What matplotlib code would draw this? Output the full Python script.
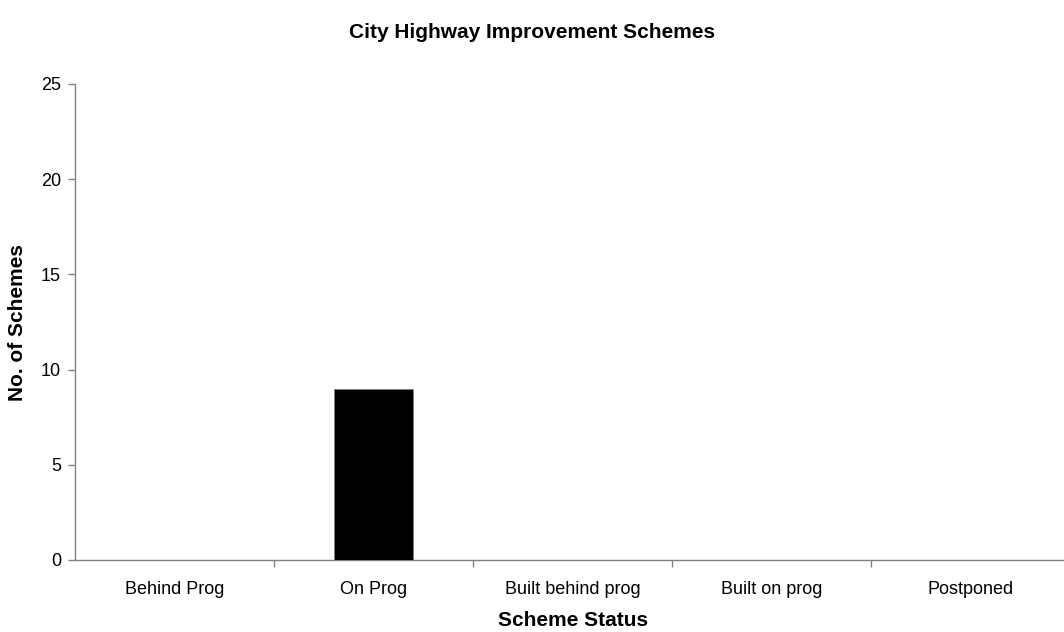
import matplotlib
matplotlib.use("Agg")
import matplotlib.pyplot as plt
import numpy as np

categories = ["Behind Prog", "On Prog", "Built behind prog", "Built on prog", "Postponed"]
values = [0, 9, 0, 0, 0]

plt.rcParams['font.family'] = ['Liberation Sans', 'DejaVu Sans']

W, H = 1064, 632
fig = plt.figure(figsize=(W/100, H/100), dpi=100)
ax = fig.add_axes([75/W, 72/H, 995/W, 476/H])

x = np.arange(len(categories))
ax.bar(x, values, width=0.4, color='black', edgecolor='#808080', linewidth=0.6, zorder=3)

ax.set_xlim(-0.5, len(categories) - 0.5)
ax.set_ylim(0, 25)
ax.set_yticks([0, 5, 10, 15, 20, 25])
ax.set_xticks(x)
ax.set_xticklabels(categories, fontsize=13)
ax.set_xticks(np.arange(1, len(categories) + 1) - 0.5, minor=True)
ax.tick_params(axis='x', which='major', length=0, pad=15)
ax.tick_params(axis='x', which='minor', length=5, color='#808080', width=1)
ax.tick_params(axis='y', which='major', length=5, color='#808080', width=1, labelsize=13, pad=5)

for s in ['top', 'right']:
    ax.spines[s].set_visible(False)
for s in ['left', 'bottom']:
    ax.spines[s].set_color('#808080')
    ax.spines[s].set_linewidth(1)

fig.text(532/W, 1 - 32/H, "City Highway Improvement Schemes", ha='center', va='center',
         fontsize=15, fontweight='bold')
fig.text(573/W, 1 - 620/H, "Scheme Status", ha='center', va='center', fontsize=15, fontweight='bold')
fig.text(18/W, 1 - 322/H, "No. of Schemes", ha='center', va='center', fontsize=15,
         fontweight='bold', rotation=90)

fig.savefig("out.png", dpi=100)
